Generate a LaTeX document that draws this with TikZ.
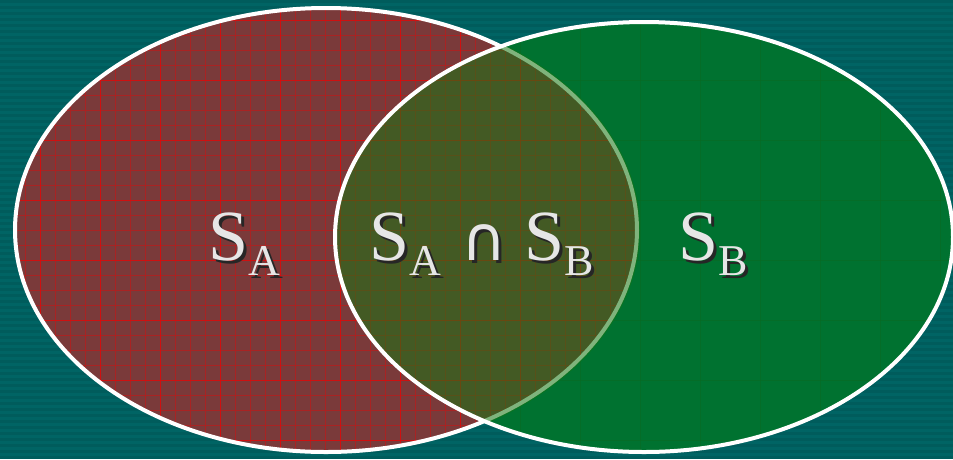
\documentclass[tikz,border=0pt]{standalone}
\usepackage{fontspec}
\setmainfont{Liberation Serif}
\newfontfamily\symfont{DejaVu Sans}
\definecolor{bgteal}{HTML}{006464}
\definecolor{bgstripe}{HTML}{005C5C}
\definecolor{redfill}{HTML}{7A3A3A}
\definecolor{redgrid}{HTML}{D01010}
\definecolor{greenfill}{HTML}{007230}
\definecolor{greenglaze}{HTML}{167612}
\definecolor{greengrid}{HTML}{0A6A22}
\definecolor{txt}{HTML}{E6E6E6}
\tikzset{
  setline/.style={draw=white, line width=4pt},
  lbl/.style={inner sep=0pt, anchor=base, text=txt},
  shadow/.style={inner sep=0pt, anchor=base, text=black!85},
}
\newcommand{\bigS}{{\fontsize{72}{72}\selectfont S}}
\newcommand{\subl}[1]{\raisebox{-15pt}{\fontsize{44}{44}\selectfont #1}}
\newcommand{\capsym}{\hspace{20pt}{\symfont\fontsize{62}{62}\selectfont ∩}\hspace{18pt}}
\begin{document}
\begin{tikzpicture}[x=1pt,y=-1pt]
\useasboundingbox (0,0) rectangle (953,459);
\fill[bgteal] (0,0) rectangle (953,459);
\foreach \y in {0,6,...,459} { \fill[bgstripe] (0,\y) rectangle (953,\y+3); }
\coordinate (ca) at (326,230);
\coordinate (cb) at (644,237);
% green set, opaque base
\fill[greenfill] (cb) ellipse [x radius=309, y radius=215];
\begin{scope}
  \clip (cb) ellipse [x radius=309, y radius=215];
  \foreach \x in {340,400,...,953} { \draw[greengrid, opacity=0.5, line width=0.8pt] (\x,0) -- (\x,459); }
  \foreach \y in {20,80,...,459} { \draw[greengrid, opacity=0.5, line width=0.8pt] (0,\y) -- (953,\y); }
\end{scope}
% red set
\fill[redfill] (ca) ellipse [x radius=311, y radius=222];
\begin{scope}
  \clip (ca) ellipse [x radius=311, y radius=222];
  \foreach \x in {10,25,...,640} { \draw[redgrid!55!redfill, line width=0.4pt] (\x,0) -- (\x,459); }
  \foreach \y in {5,20,...,459} { \draw[redgrid!55!redfill, line width=0.4pt] (0,\y) -- (953,\y); }
  \foreach \x in {40,100,...,640} { \draw[redgrid, line width=1pt] (\x,0) -- (\x,459); }
  \foreach \y in {20,80,...,459} { \draw[redgrid, line width=1pt] (0,\y) -- (953,\y); }
\end{scope}
\draw[setline] (ca) ellipse [x radius=311, y radius=222];
% green set, translucent over the red one (only where they overlap)
\begin{scope}
  \clip (ca) ellipse [x radius=314, y radius=225];
  \fill[greenglaze, fill opacity=0.55] (cb) ellipse [x radius=309, y radius=215];
\end{scope}
\draw[setline] (cb) ellipse [x radius=309, y radius=215];
% labels
\node[shadow] (sha) at (247,263) {\bigS\subl{A}};
\node[lbl] (la) at (244,260) {\bigS\subl{A}};
\node[shadow] (shab) at (485,263) {\bigS\subl{A}\capsym\bigS\subl{B}};
\node[lbl] (lab) at (482,260) {\bigS\subl{A}\capsym\bigS\subl{B}};
\node[shadow] (shb) at (716,263) {\bigS\subl{B}};
\node[lbl] (lb) at (713,260) {\bigS\subl{B}};
\end{tikzpicture}
\end{document}
